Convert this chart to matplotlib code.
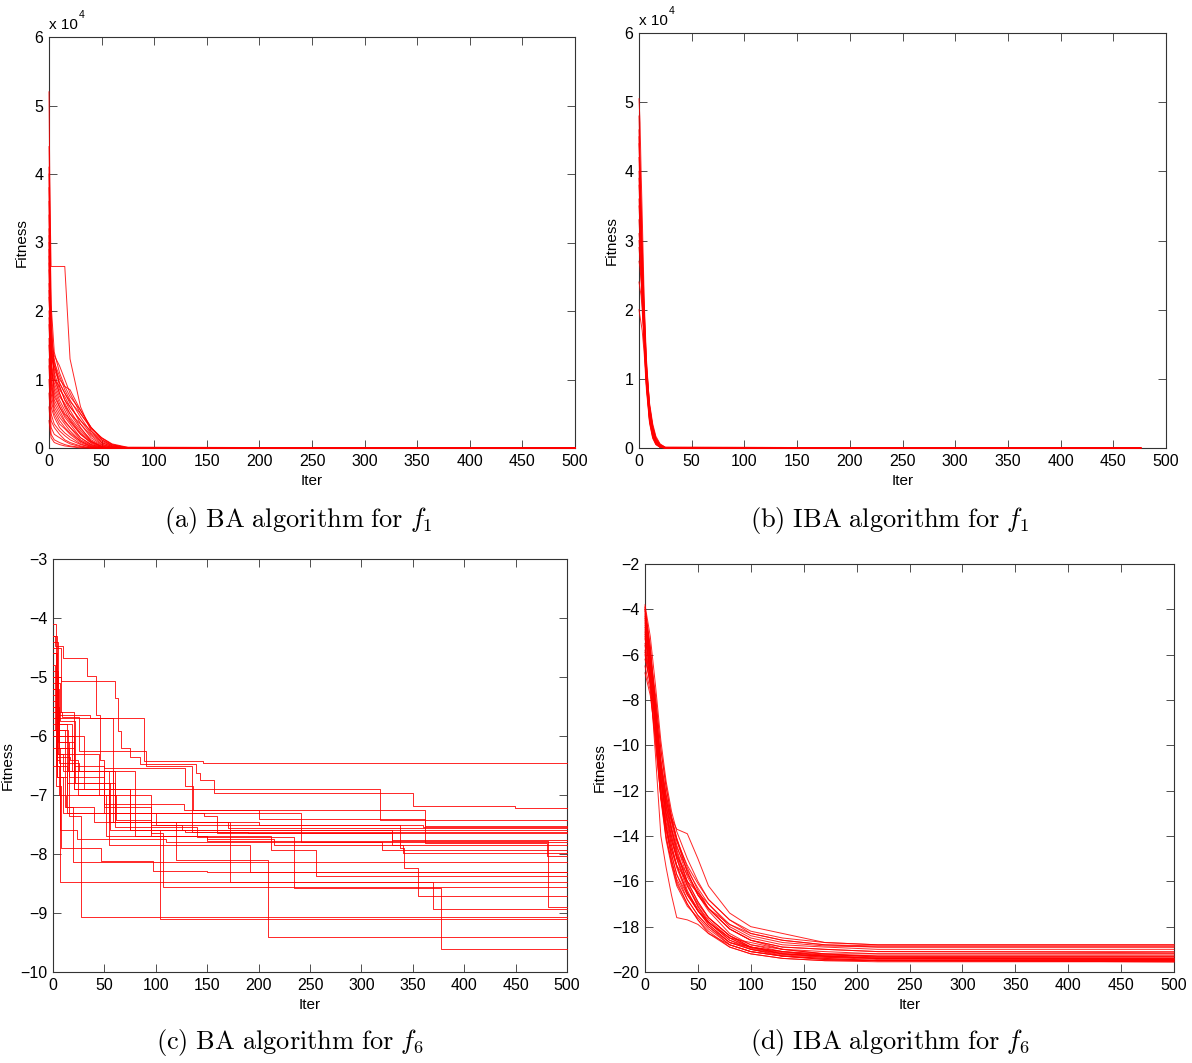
import numpy as np
import matplotlib
matplotlib.use('Agg')
import matplotlib.pyplot as plt

plt.rcParams['font.family'] = ['Liberation Sans', 'DejaVu Sans']
plt.rcParams['mathtext.fontset'] = 'cm'

# (a) BA for f1, values in units of 1e4, sampled at a_iters
a_iters = [0, 2, 5, 10, 15, 20, 30, 40, 50, 60, 75, 500]
a_runs = [
    [5.2, 1.8, 1.2, 0.95, 0.8, 0.65, 0.35, 0.15, 0.05, 0.01, 0, 0],
    [4.4, 2.65, 2.65, 2.65, 2.65, 1.3, 0.6, 0.25, 0.08, 0.02, 0, 0],
    [4.1, 2.1, 1.4, 1.1, 0.9, 0.85, 0.55, 0.3, 0.12, 0.03, 0, 0],
    [3.6, 1.5, 1.3, 0.9, 0.7, 0.55, 0.3, 0.1, 0.03, 0, 0, 0],
    [3.2, 2.0, 1.0, 0.8, 0.6, 0.45, 0.25, 0.1, 0.02, 0, 0, 0],
    [2.8, 1.6, 1.35, 1.2, 1.0, 0.8, 0.5, 0.28, 0.15, 0.05, 0, 0],
    [2.4, 1.2, 0.9, 0.7, 0.55, 0.4, 0.2, 0.07, 0.01, 0, 0, 0],
    [2.0, 1.4, 1.1, 0.85, 0.75, 0.6, 0.4, 0.2, 0.08, 0.02, 0, 0],
    [3.8, 1.3, 0.8, 0.6, 0.45, 0.35, 0.15, 0.05, 0.01, 0, 0, 0],
    [1.8, 1.0, 0.7, 0.55, 0.4, 0.3, 0.12, 0.04, 0, 0, 0, 0],
    [3.0, 1.1, 0.95, 0.75, 0.65, 0.5, 0.35, 0.18, 0.06, 0.01, 0, 0],
    [2.2, 1.45, 1.25, 1.05, 0.85, 0.7, 0.45, 0.22, 0.1, 0.03, 0, 0],
    [1.5, 0.8, 0.55, 0.4, 0.3, 0.22, 0.1, 0.03, 0, 0, 0, 0],
    [2.6, 0.9, 0.6, 0.45, 0.35, 0.25, 0.1, 0.02, 0, 0, 0, 0],
    [1.2, 0.5, 0.35, 0.25, 0.18, 0.12, 0.05, 0.01, 0, 0, 0, 0],
    [3.4, 1.25, 1.0, 0.9, 0.7, 0.6, 0.4, 0.25, 0.12, 0.04, 0.01, 0],
    [1.0, 0.4, 0.3, 0.2, 0.12, 0.08, 0.03, 0, 0, 0, 0, 0],
    [2.9, 1.35, 1.15, 0.95, 0.8, 0.68, 0.5, 0.3, 0.14, 0.05, 0, 0],
    [0.8, 0.3, 0.2, 0.15, 0.1, 0.06, 0.02, 0, 0, 0, 0, 0],
    [4.0, 1.55, 1.05, 0.8, 0.62, 0.5, 0.28, 0.12, 0.04, 0.01, 0, 0],
    [1.6, 0.7, 0.5, 0.35, 0.28, 0.2, 0.08, 0.02, 0, 0, 0, 0],
    [2.3, 1.15, 0.85, 0.65, 0.5, 0.42, 0.22, 0.09, 0.02, 0, 0, 0],
    [0.6, 0.2, 0.12, 0.08, 0.05, 0.03, 0.01, 0, 0, 0, 0, 0],
    [3.1, 1.4, 1.2, 1.0, 0.9, 0.75, 0.55, 0.3, 0.15, 0.06, 0.01, 0],
    [1.9, 0.95, 0.65, 0.5, 0.38, 0.3, 0.15, 0.05, 0.01, 0, 0, 0],
    [2.7, 1.05, 0.75, 0.6, 0.48, 0.38, 0.2, 0.08, 0.02, 0, 0, 0],
    [0.4, 0.15, 0.08, 0.05, 0.03, 0.02, 0, 0, 0, 0, 0, 0],
    [1.3, 0.6, 0.45, 0.3, 0.22, 0.16, 0.06, 0.01, 0, 0, 0, 0],
]

# (b) IBA for f1, units of 1e4
b_iters = [0, 1, 2, 3, 5, 7, 10, 13, 16, 20, 25, 476]
b_runs = [
    [5.05, 4.7, 4.0, 3.4, 2.1, 1.3, 0.6, 0.3, 0.13, 0.04, 0, 0],
    [4.8, 4.2, 3.6, 3.0, 2.0, 1.2, 0.55, 0.25, 0.1, 0.03, 0, 0],
    [4.5, 3.9, 3.4, 2.8, 1.8, 1.1, 0.5, 0.22, 0.08, 0.02, 0, 0],
    [4.2, 3.7, 3.2, 2.7, 1.9, 1.15, 0.62, 0.32, 0.15, 0.05, 0.01, 0],
    [3.9, 3.5, 3.0, 2.5, 1.7, 1.0, 0.45, 0.2, 0.08, 0.02, 0, 0],
    [3.6, 3.3, 2.9, 2.4, 1.6, 0.95, 0.4, 0.17, 0.06, 0.01, 0, 0],
    [3.3, 3.0, 2.7, 2.3, 1.65, 1.05, 0.5, 0.24, 0.1, 0.03, 0, 0],
    [3.0, 2.8, 2.5, 2.2, 1.5, 0.9, 0.38, 0.15, 0.05, 0.01, 0, 0],
    [2.7, 2.6, 2.4, 2.1, 1.55, 1.0, 0.48, 0.22, 0.09, 0.02, 0, 0],
    [4.6, 4.0, 3.3, 2.6, 1.75, 1.1, 0.58, 0.28, 0.12, 0.04, 0, 0],
    [4.0, 3.6, 3.1, 2.6, 1.85, 1.2, 0.65, 0.35, 0.17, 0.06, 0.01, 0],
    [3.5, 3.2, 2.8, 2.35, 1.6, 1.0, 0.42, 0.18, 0.07, 0.02, 0, 0],
    [2.4, 2.3, 2.2, 2.0, 1.45, 0.92, 0.44, 0.2, 0.08, 0.02, 0, 0],
    [4.4, 3.8, 3.3, 2.75, 1.95, 1.25, 0.6, 0.3, 0.14, 0.05, 0.01, 0],
    [3.1, 2.9, 2.6, 2.2, 1.55, 0.98, 0.47, 0.21, 0.08, 0.02, 0, 0],
    [2.0, 1.9, 1.8, 1.7, 1.35, 0.85, 0.36, 0.14, 0.05, 0.01, 0, 0],
    [3.8, 3.4, 3.0, 2.5, 1.7, 1.05, 0.52, 0.26, 0.11, 0.03, 0, 0],
    [2.9, 2.7, 2.5, 2.15, 1.5, 0.93, 0.41, 0.19, 0.07, 0.01, 0, 0],
]

# (c) BA for f6, step changes: iteration where a new best is found, and its value
c_iters = [
    [0, 3, 89, 146],
    [0, 3, 8, 60, 63, 66, 75, 85, 139, 143, 157, 350, 449],
    [0, 5, 36, 58, 318],
    [0, 2, 10, 33, 42, 46, 50, 128, 136, 200, 362],
    [0, 6, 20, 54, 170],
    [0, 4, 17, 24, 61, 95, 125],
    [0, 3, 14, 100, 147, 160],
    [0, 4, 10, 241],
    [0, 7, 21, 55, 128, 190, 330],
    [0, 8, 20, 50, 127, 362, 481],
    [0, 5, 16, 50, 95, 150, 215],
    [0, 3, 7, 23, 110, 320],
    [0, 2, 12, 30, 75, 330, 340],
    [0, 4, 12, 19],
    [0, 6, 20, 54, 192],
    [0, 4, 10, 80, 212, 256],
    [0, 3, 7],
    [0, 5, 15, 58, 172, 370],
    [0, 4, 15, 45, 95, 107],
    [0, 6, 25, 60, 140, 234, 377],
    [0, 5, 18, 50, 100, 338, 341, 355],
    [0, 4, 14, 52, 150, 482],
    [0, 4, 16, 27],
    [0, 6, 20, 75, 104],
    [0, 5, 14, 60, 120, 209],
    [0, 3, 8, 47, 97, 150],
    [0, 4, 9, 25, 90, 135],
    [0, 6, 13, 40, 200, 360],
]
c_vals = [
    [-5.2, -5.69, -6.43, -6.45],
    [-4.6, -5.0, -5.07, -5.35, -5.92, -6.2, -6.35, -6.47, -6.62, -6.75, -6.97, -7.19, -7.22],
    [-4.9, -5.65, -5.7, -6.9, -7.42],
    [-4.3, -4.48, -4.68, -4.99, -5.65, -6.4, -6.55, -6.85, -7.25, -7.4, -7.52],
    [-5.6, -6.1, -6.6, -7.45, -7.56],
    [-5.9, -6.35, -6.4, -7.0, -7.42, -7.5, -7.6],
    [-4.1, -6.5, -7.3, -7.3, -7.35, -7.64],
    [-5.0, -6.7, -7.3, -7.79],
    [-5.1, -5.75, -6.8, -7.6, -7.62, -7.65, -7.76],
    [-4.5, -5.6, -6.5, -7.15, -7.25, -7.81, -8.03],
    [-5.3, -6.1, -6.7, -7.2, -7.7, -7.75, -7.84],
    [-6.0, -6.4, -7.6, -7.75, -7.8, -7.93],
    [-4.8, -5.9, -6.0, -6.9, -7.6, -7.85, -7.98],
    [-5.7, -6.0, -7.2, -8.14],
    [-5.5, -6.2, -6.9, -7.84, -8.3],
    [-5.8, -6.3, -6.6, -7.7, -7.93, -8.38],
    [-5.0, -6.2, -8.47],
    [-5.4, -6.3, -6.6, -7.45, -8.48, -8.93],
    [-4.6, -5.9, -6.3, -7.0, -7.65, -8.56],
    [-5.5, -6.45, -6.6, -7.55, -7.72, -8.58, -9.61],
    [-4.4, -5.8, -6.6, -7.3, -7.5, -7.9, -8.23, -8.72],
    [-5.9, -6.7, -7.0, -7.7, -7.78, -8.89],
    [-4.3, -6.2, -7.35, -9.06],
    [-5.2, -6.0, -6.9, -7.6, -9.1],
    [-5.0, -5.8, -6.8, -7.45, -8.1, -9.4],
    [-6.2, -6.85, -7.9, -8.12, -8.28, -8.3],
    [-5.2, -5.6, -5.68, -6.25, -6.5, -7.62],
    [-6.5, -7.0, -7.2, -7.45, -7.5, -7.55],
]

# (d) IBA for f6, sampled at d_iters
d_iters = [0, 5, 10, 15, 20, 25, 30, 40, 50, 60, 80, 100, 130, 170, 220, 500]
d_runs = [
    [-3.9, -6.2, -8.8, -11.5, -13.0, -14.2, -15.0, -16.2, -17.1, -17.8, -18.6, -18.9, -19.2, -19.3, -19.4, -19.45],
    [-4.2, -7.2, -10.5, -14.0, -15.4, -16.6, -17.6, -17.7, -17.9, -18.3, -18.8, -19.1, -19.3, -19.4, -19.5, -19.55],
    [-4.5, -6.3, -8.0, -10.2, -11.8, -13.2, -14.2, -15.6, -16.6, -17.2, -18.1, -18.6, -18.9, -19.0, -19.1, -19.1],
    [-5.0, -6.8, -9.0, -11.5, -13.2, -14.4, -15.3, -16.5, -17.3, -17.9, -18.7, -18.9, -19.1, -19.2, -19.3, -19.3],
    [-3.8, -5.2, -7.4, -9.8, -11.6, -12.9, -13.8, -15.0, -16.0, -16.8, -17.7, -18.3, -18.6, -18.8, -18.9, -18.9],
    [-4.8, -6.0, -8.6, -11.0, -12.7, -13.8, -14.8, -16.0, -16.9, -17.6, -18.4, -18.8, -19.0, -19.2, -19.2, -19.2],
    [-6.5, -7.6, -10.0, -12.3, -13.8, -14.8, -15.7, -16.8, -17.5, -18.0, -18.8, -19.1, -19.3, -19.4, -19.5, -19.5],
    [-5.5, -7.0, -9.2, -11.5, -12.5, -13.3, -14.1, -15.4, -16.4, -17.2, -18.1, -18.6, -19.0, -19.2, -19.35, -19.4],
    [-4.0, -5.6, -8.2, -10.8, -12.3, -13.7, -14.5, -15.5, -16.3, -17.0, -18.0, -18.5, -18.8, -18.9, -19.0, -19.0],
    [-6.0, -7.3, -8.6, -10.6, -12.2, -13.2, -13.7, -13.9, -15.0, -16.2, -17.4, -18.0, -18.3, -18.7, -18.8, -18.8],
    [-4.3, -6.3, -9.0, -12.0, -13.6, -15.0, -16.0, -17.0, -17.7, -18.3, -18.9, -19.2, -19.4, -19.5, -19.5, -19.55],
    [-5.2, -6.8, -8.6, -11.0, -12.8, -14.0, -14.9, -16.2, -17.0, -17.6, -18.4, -18.9, -19.2, -19.3, -19.4, -19.4],
    [-4.6, -6.0, -7.8, -10.2, -11.9, -13.1, -14.1, -15.6, -16.6, -17.3, -18.3, -18.8, -19.1, -19.25, -19.3, -19.3],
    [-3.9, -5.7, -8.3, -10.8, -12.6, -13.6, -14.6, -16.0, -16.9, -17.6, -18.4, -18.9, -19.1, -19.3, -19.4, -19.45],
    [-5.8, -7.4, -9.8, -12.3, -13.6, -14.6, -15.3, -16.0, -16.5, -17.0, -17.9, -18.4, -18.7, -18.85, -18.9, -18.9],
    [-4.4, -6.2, -8.9, -11.5, -13.4, -14.4, -15.3, -16.5, -17.2, -17.8, -18.6, -19.0, -19.3, -19.45, -19.5, -19.5],
    [-6.8, -7.8, -9.6, -11.9, -13.6, -14.6, -15.4, -16.6, -17.3, -17.8, -18.5, -18.7, -19.0, -19.1, -19.2, -19.2],
    [-5.3, -6.7, -9.1, -11.6, -13.0, -14.0, -15.0, -16.4, -17.3, -17.9, -18.7, -19.0, -19.2, -19.3, -19.35, -19.35],
    [-4.1, -5.9, -8.5, -11.2, -13.1, -14.2, -14.9, -15.7, -16.5, -17.2, -18.1, -18.6, -18.9, -19.0, -19.1, -19.15],
    [-4.9, -6.5, -9.3, -12.2, -14.0, -15.2, -16.1, -17.0, -17.7, -18.2, -18.9, -19.2, -19.4, -19.5, -19.55, -19.55],
    [-5.6, -7.1, -9.0, -11.1, -12.4, -13.4, -14.4, -15.8, -16.6, -17.2, -17.9, -18.3, -18.6, -18.8, -18.85, -18.85],
    [-4.7, -6.4, -8.7, -11.8, -13.6, -14.8, -15.7, -16.6, -17.3, -17.8, -18.5, -18.95, -19.2, -19.35, -19.4, -19.4],
    [-6.2, -7.2, -9.5, -12.4, -14.2, -15.3, -16.2, -17.1, -17.6, -18.1, -18.8, -19.1, -19.3, -19.45, -19.5, -19.5],
    [-5.1, -6.6, -8.8, -11.4, -12.7, -13.7, -14.7, -16.1, -17.1, -17.7, -18.5, -18.9, -19.15, -19.25, -19.3, -19.3],
    [-4.0, -6.0, -9.2, -12.3, -14.1, -15.1, -15.9, -16.8, -17.5, -18.0, -18.7, -19.0, -19.25, -19.35, -19.45, -19.45],
    [-5.9, -6.9, -8.5, -10.8, -12.2, -13.3, -14.2, -15.3, -16.1, -16.8, -17.7, -18.2, -18.5, -18.7, -18.8, -18.8],
]

W, H = 1192, 1063
fig = plt.figure(figsize=(W / 100, H / 100), dpi=100)


def make_ax(left, top, right, bottom):
    ax = fig.add_axes([left / W, 1 - bottom / H, (right - left) / W, (bottom - top) / H])
    ax.tick_params(direction='in', top=True, right=True, length=6, width=0.6,
                   labelsize=11.5, pad=4, color='#333333')
    for s in ax.spines.values():
        s.set_color('#333333')
        s.set_linewidth(0.8)
    ax.set_xlim(0, 500)
    ax.set_xticks(np.arange(0, 501, 50))
    ax.set_xlabel('Iter', fontsize=11, labelpad=4)
    ax.set_ylabel('Fitness', fontsize=11, labelpad=4)
    return ax


def caption(x, y, s):
    fig.text(x / W, 1 - y / H, s, ha='center', va='center', fontsize=19)


def power_label(ax):
    ax.text(0, 1.012, 'x 10', transform=ax.transAxes, fontsize=11, va='bottom')
    ax.text(0.056, 1.042, '4', transform=ax.transAxes, fontsize=7.5, va='bottom')


# lines drawn above the spines, as in the original figure
line_kw = dict(color='red', lw=0.7, alpha=0.85, zorder=3, clip_on=False)

# (a)
ax = make_ax(49, 37, 575, 448)
for run in a_runs:
    ax.plot(a_iters, run, **line_kw)
ax.set_ylim(0, 6)
ax.set_yticks(range(7))
power_label(ax)
caption(298, 520, r'$\mathrm{(a)\ BA\ algorithm\ for\ }f_1$')

# (b)
ax = make_ax(639, 33, 1166, 448)
for run in b_runs:
    ax.plot(b_iters, run, **line_kw)
ax.set_ylim(0, 6)
ax.set_yticks(range(7))
power_label(ax)
caption(890, 520, r'$\mathrm{(b)\ IBA\ algorithm\ for\ }f_1$')

# (c)
ax = make_ax(53, 559, 567, 972)
for it, v in zip(c_iters, c_vals):
    ax.plot(it + [500], v + [v[-1]], drawstyle='steps-post', **line_kw)
ax.set_ylim(-10, -3)
ax.set_yticks(range(-10, -2))
caption(290, 1043, r'$\mathrm{(c)\ BA\ algorithm\ for\ }f_6$')

# (d)
ax = make_ax(645, 564, 1174, 972)
for run in d_runs:
    ax.plot(d_iters, run, **line_kw)
ax.set_ylim(-20, -2)
ax.set_yticks(range(-20, -1, 2))
caption(890, 1043, r'$\mathrm{(d)\ IBA\ algorithm\ for\ }f_6$')

fig.savefig('out.png', dpi=100)
